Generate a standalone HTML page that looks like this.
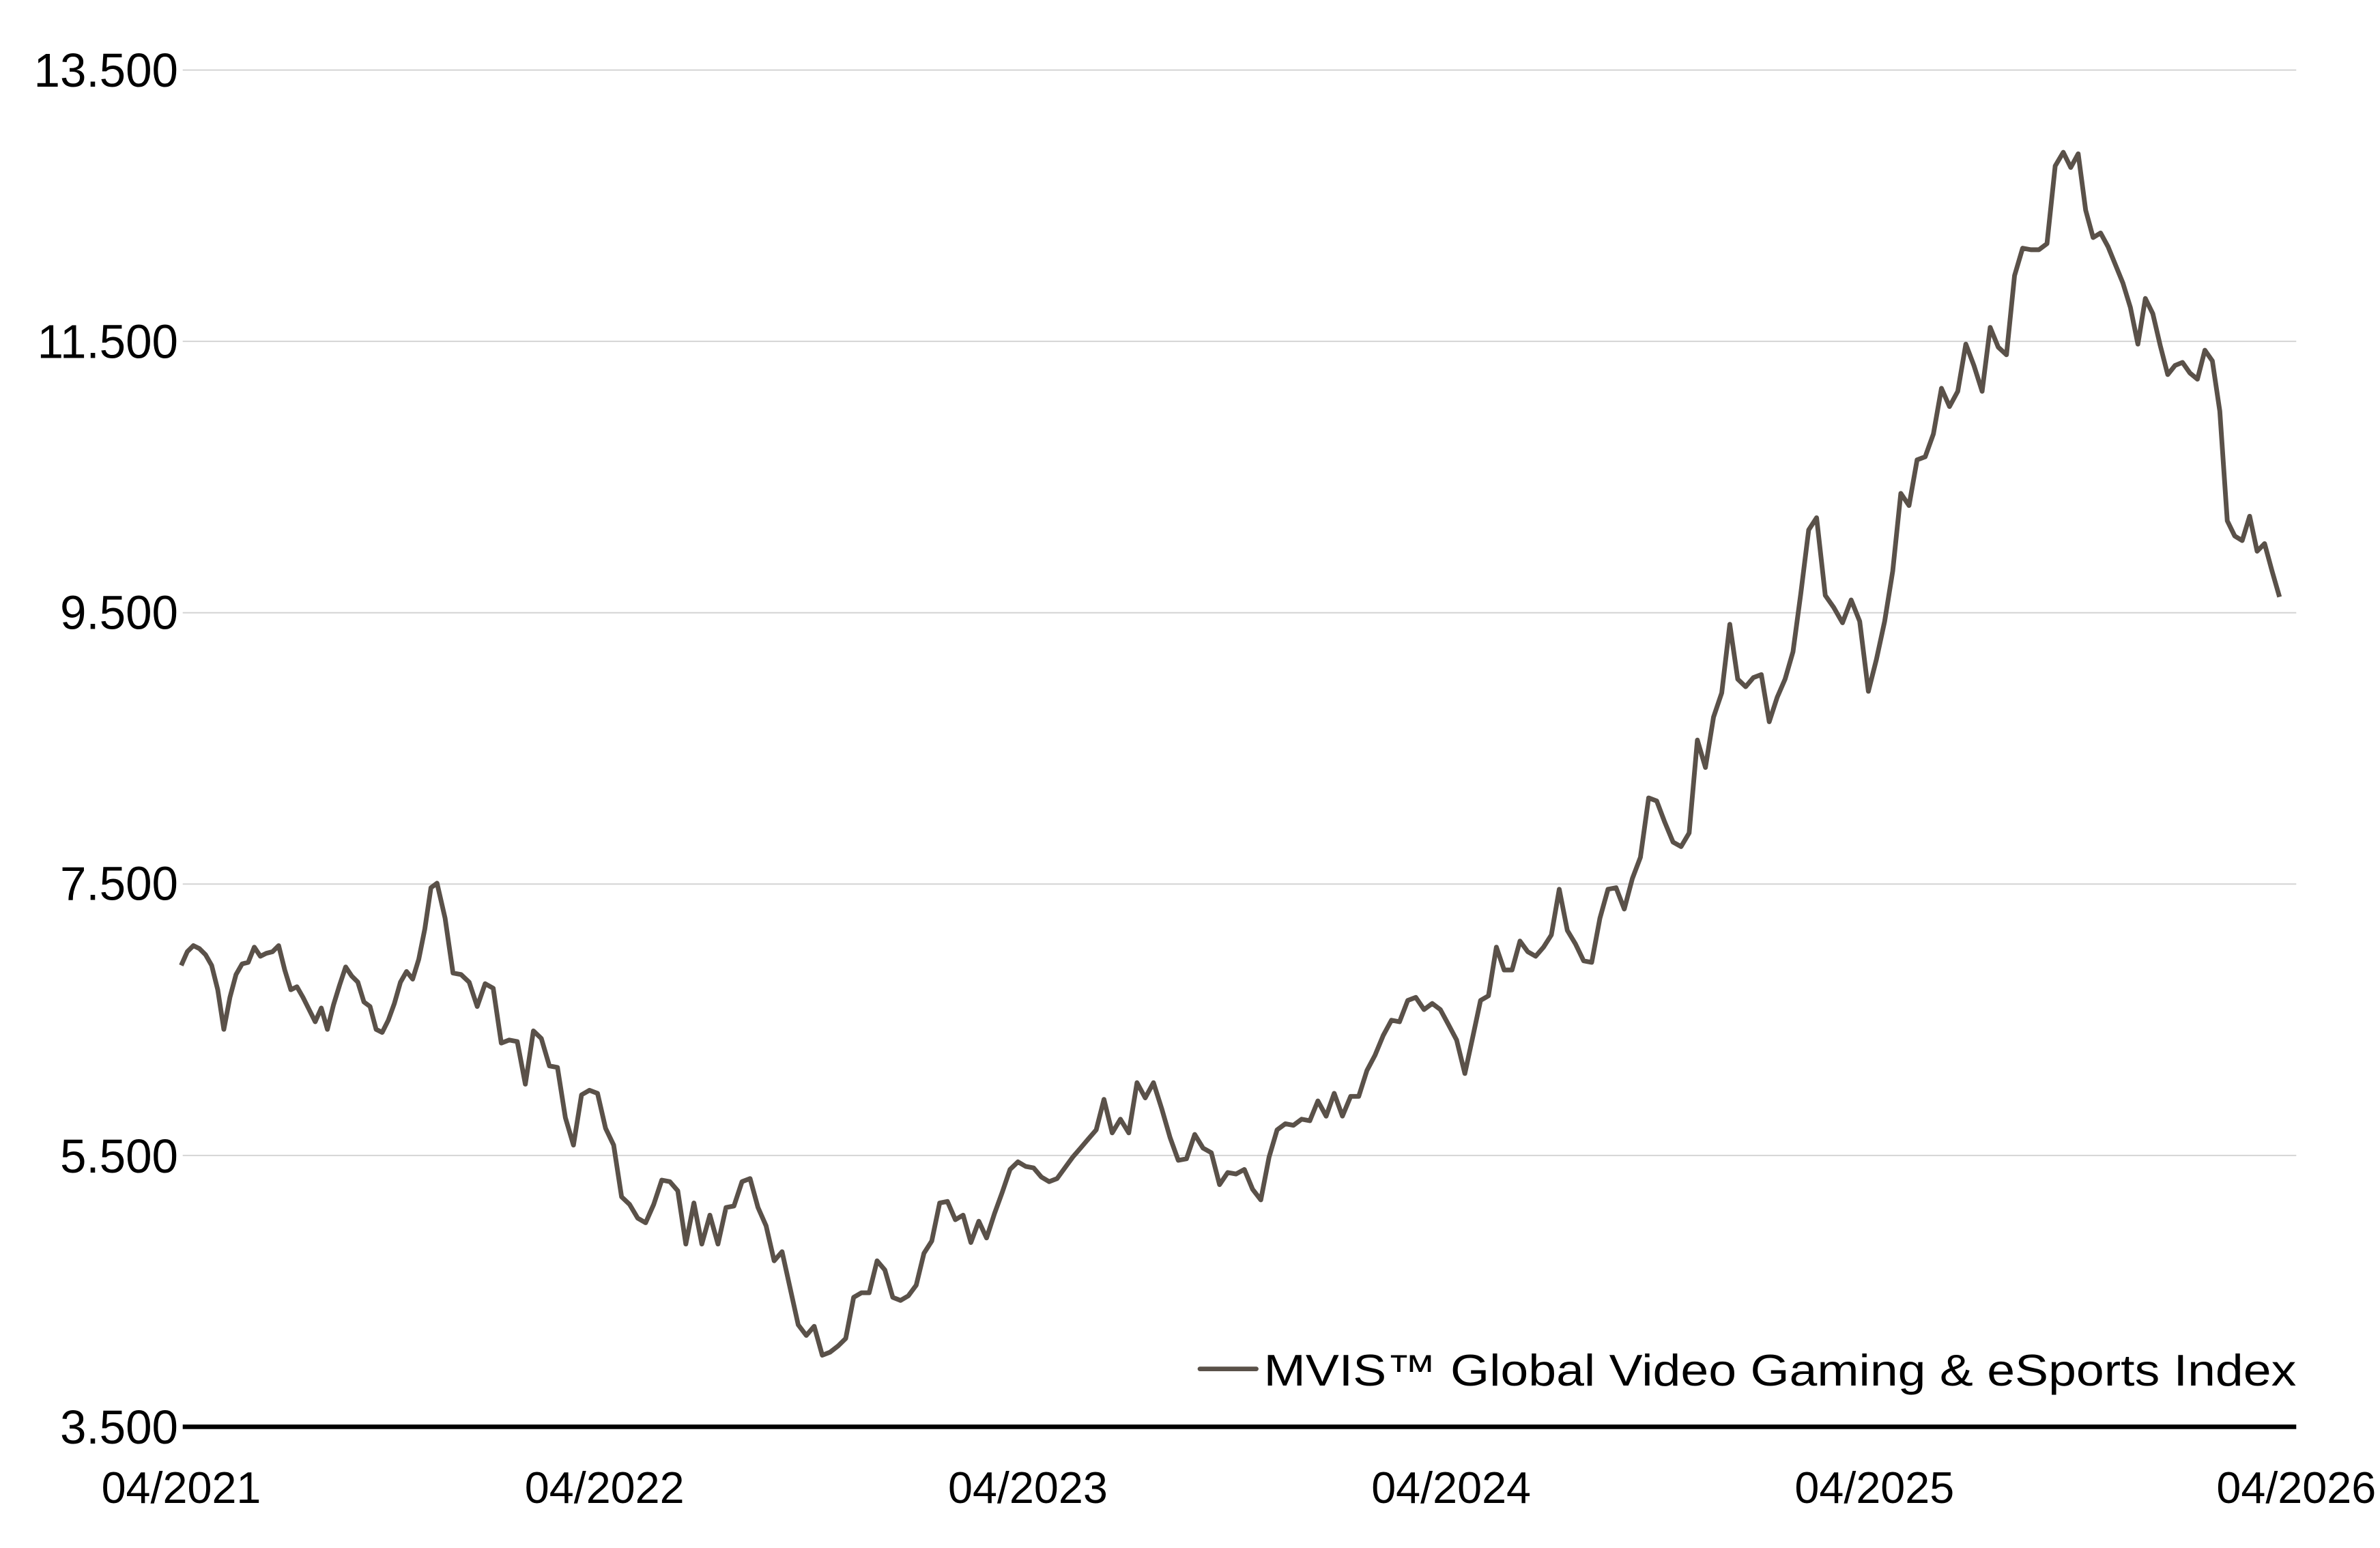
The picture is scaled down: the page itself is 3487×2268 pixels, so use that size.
<!DOCTYPE html>
<html><head><meta charset="utf-8"><style>
html,body{margin:0;padding:0;background:#fff;}
svg{display:block;}
text{font-family:"Liberation Sans",sans-serif;fill:#000;}
</style></head><body>
<svg id="s" width="3487" height="2268" viewBox="0 0 1563 1016.6" xmlns="http://www.w3.org/2000/svg">
<g stroke="#d4d4d4" stroke-width="0.9">
<line x1="120" x2="1508" y1="46" y2="46"/>
<line x1="120" x2="1508" y1="224.2" y2="224.2"/>
<line x1="120" x2="1508" y1="402.4" y2="402.4"/>
<line x1="120" x2="1508" y1="580.6" y2="580.6"/>
<line x1="120" x2="1508" y1="758.8" y2="758.8"/>
</g>
<line x1="120" x2="1508" y1="937" y2="937" stroke="#000" stroke-width="3"/>
<g font-size="31" text-anchor="end">
<text x="117" y="57">13.500</text>
<text x="117" y="235">11.500</text>
<text x="117" y="413">9.500</text>
<text x="117" y="591">7.500</text>
<text x="117" y="770">5.500</text>
<text x="117" y="948">3.500</text>
</g>
<g font-size="29" text-anchor="middle">
<text x="119" y="987">04/2021</text>
<text x="397" y="987">04/2022</text>
<text x="675" y="987">04/2023</text>
<text x="953" y="987">04/2024</text>
<text x="1231" y="987">04/2025</text>
<text x="1508" y="987">04/2026</text>
</g>
<line x1="788" x2="825" y1="899" y2="899" stroke="#5a5149" stroke-width="3" stroke-linecap="round"/>
<text x="830" y="910" font-size="29" textLength="678" lengthAdjust="spacingAndGlyphs">MVIS™ Global Video Gaming &amp; eSports Index</text>
<path id="p" fill="none" stroke="#5a5149" stroke-width="3.1" stroke-linejoin="round" d=""/>
</svg>
<script>
var pts=[[119,634],[123,625],[127,621],[131,623],[135,627],[139,634],[143,650],[147,676],[151,655],[155,640],[159,633],[163,632],[167,622],[171,628],[175,626],[179,625],[183,621],[187,637],[191,650],[195,648],[199,655],[203,663],[207,671],[211,662],[215,676],[219,660],[223,647],[227,635],[231,641],[235,645],[239,658],[243,661],[247,676],[251,678],[255,670],[259,659],[263,645],[267,638],[271,643],[275,630],[279,610],[283,583],[287,580],[291,603],[295,639],[299,640],[303,645],[307,661],[311,646],[315,649],[319,685],[323,683],[327,684],[331,712],[335,677],[339,682],[343,700],[347,701],[351,734],[355,752],[359,719],[363,716],[367,718],[371,741],[375,752],[379,786],[383,791],[387,800],[391,803],[395,791],[399,775],[403,776],[407,782],[411,817],[415,790],[419,817],[423,798],[427,817],[431,793],[435,792],[439,776],[443,774],[447,793],[451,805],[455,828],[459,822],[463,846],[467,870],[471,877],[475,871],[479,890],[483,888],[487,884],[491,879],[495,852],[499,849],[503,849],[507,828],[511,834],[515,852],[519,854],[523,851],[527,844],[531,823],[535,815],[539,790],[543,789],[547,801],[551,798],[555,816],[559,802],[563,813],[567,797],[571,783],[575,768],[579,763],[583,766],[587,767],[591,773],[595,776],[599,774],[603,767],[607,760],[611,754],[615,748],[619,742],[623,722],[627,744],[631,735],[635,744],[639,711],[643,721],[647,711],[651,728],[655,747],[659,762],[663,761],[667,745],[671,754],[675,757],[679,778],[683,770],[687,771],[691,768],[695,781],[699,788],[703,760],[707,742],[711,738],[715,739],[719,735],[723,736],[727,723],[731,733],[735,718],[739,733],[743,720],[747,720],[751,703],[755,693],[759,680],[763,670],[767,671],[771,657],[775,655],[779,663],[783,659],[787,663],[791,673],[795,683],[799,705],[803,681],[807,657],[811,654],[815,622],[819,637],[823,637],[827,618],[831,625],[835,628],[839,622],[843,614],[847,584],[851,611],[855,620],[859,631],[863,632],[867,603],[871,584],[875,583],[879,597],[883,577],[887,563],[891,524],[895,526],[899,540],[903,553],[907,556],[911,547],[915,486],[919,504],[923,471],[927,455],[931,410],[935,446],[939,451],[943,445],[947,443],[951,474],[955,458],[959,446],[963,428],[967,390],[971,348],[975,340],[979,391],[983,399],[987,409],[991,394],[995,408],[999,454],[1003,433],[1007,408],[1011,375],[1015,324],[1019,332],[1023,302],[1027,300],[1031,285],[1035,255],[1039,267],[1043,257],[1047,226],[1051,240],[1055,257],[1059,215],[1063,228],[1067,233],[1071,181],[1075,163],[1079,164],[1083,164],[1087,160],[1091,109],[1095,100],[1099,110],[1103,101],[1107,138],[1111,156],[1115,153],[1119,162],[1123,174],[1127,186],[1131,202],[1135,226],[1139,196],[1143,206],[1147,227],[1151,246],[1155,240],[1159,238],[1163,245],[1167,249],[1171,230],[1175,237],[1179,270],[1183,342],[1187,352],[1191,355],[1195,339],[1199,362],[1203,357],[1207,375],[1211,392]];
var A=[[119,119],[287,287],[479,540],[623,725],[699,828],[799,962],[847,1024],[931,1136],[975,1193],[999,1227],[1095,1355],[1211,1497]];
function mx(x){for(var i=0;i<A.length-1;i++){if(x<=A[i+1][0]){var t=(x-A[i][0])/(A[i+1][0]-A[i][0]);return A[i][1]+t*(A[i+1][1]-A[i][1]);}}return A[A.length-1][1];}
var d="";for(var i=0;i<pts.length;i++){d+=(i?"L":"M")+mx(pts[i][0]).toFixed(1)+","+pts[i][1];}
document.getElementById("p").setAttribute("d",d);
</script>
</body></html>
